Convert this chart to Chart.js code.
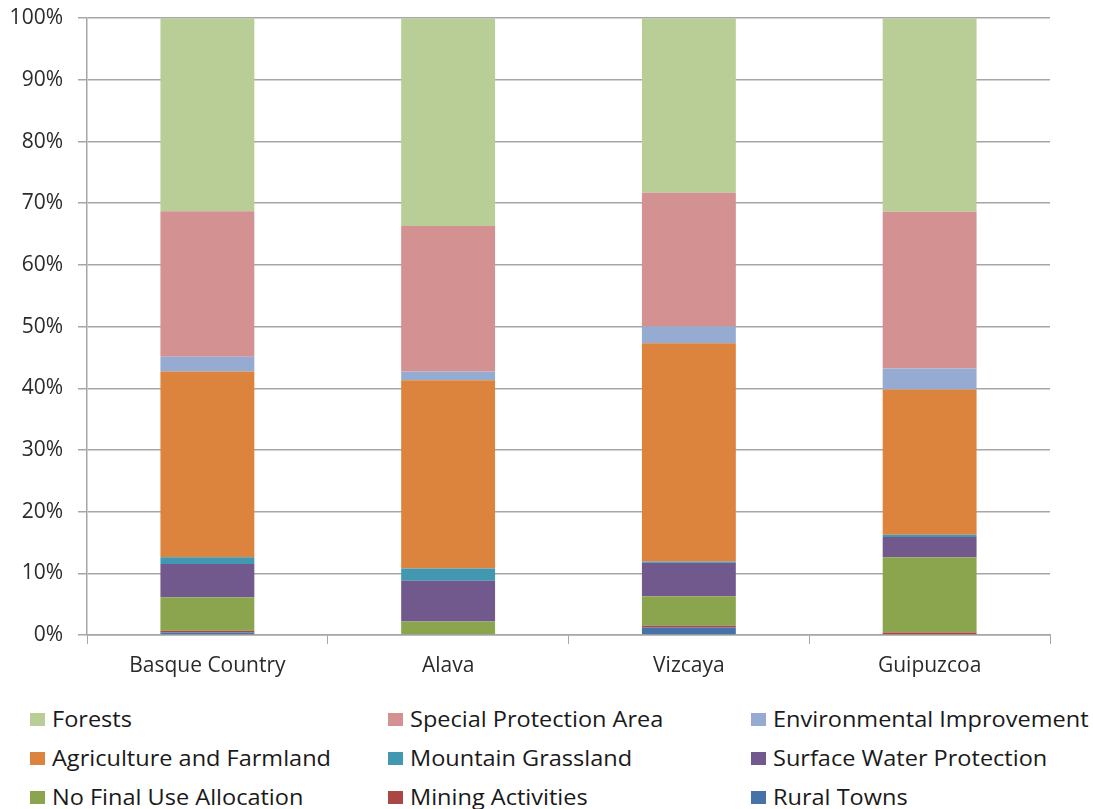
<!DOCTYPE html>
<html>
<head>
<meta charset="utf-8">
<script src="https://cdn.jsdelivr.net/npm/chart.js@4.4.1/dist/chart.umd.min.js"></script>
<style>
  html, body { margin: 0; padding: 0; background: #fff; }
  #wrap { position: relative; width: 1093px; height: 809px; }
  #chart-box { position: absolute; left: 0; top: 0; width: 1093px; height: 700px; }
  #legend { position: absolute; left: 0; top: 700px; width: 1093px; height: 109px;
    font-family: "Open Sans", Lato, sans-serif; font-size: 21px; color: #1a1a1a; }
  .item { position: absolute; display: flex; align-items: center; white-space: nowrap; line-height: 26px; }
  .sw { width: 15px; height: 13px; margin-right: 7px; }
  .txt { display: inline-block; transform: scaleX(1.12); transform-origin: left center; }
</style>
</head>
<body>
<div id="wrap">
  <div id="chart-box"><canvas id="chart"></canvas></div>
  <div id="legend"></div>
</div>
<script>
"use strict";

const CATEGORIES = ["Basque Country", "Alava", "Vizcaya", "Guipuzcoa"];

// percentages, bottom of the stack first
const RURAL_TOWNS = [0.4, 0, 1.2, 0];
const MINING = [0.3, 0, 0.3, 0.4];
const NO_FINAL_USE = [5.4, 2.2, 4.8, 12.2];
const SURFACE_WATER = [5.4, 6.6, 5.4, 3.3];
const MOUNTAIN_GRASS = [1.1, 2.0, 0.2, 0.35];
const AGRICULTURE = [30.1, 30.5, 35.4, 23.55];
const ENV_IMPROVEMENT = [2.4, 1.4, 2.7, 3.4];
const SPECIAL_PROTECTION = [23.6, 23.6, 21.7, 25.4];
const FORESTS = [31.3, 33.7, 28.3, 31.4];

const Y_TICKS = [0, 10, 20, 30, 40, 50, 60, 70, 80, 90, 100];

const SERIES = [
  { label: "Rural Towns", data: RURAL_TOWNS, color: "#4672a8" },
  { label: "Mining Activities", data: MINING, color: "#aa4644" },
  { label: "No Final Use Allocation", data: NO_FINAL_USE, color: "#8aa54e" },
  { label: "Surface Water Protection", data: SURFACE_WATER, color: "#72598d" },
  { label: "Mountain Grassland", data: MOUNTAIN_GRASS, color: "#4198b0" },
  { label: "Agriculture and Farmland", data: AGRICULTURE, color: "#dc843e" },
  { label: "Environmental Improvement", data: ENV_IMPROVEMENT, color: "#95abd1" },
  { label: "Special Protection Area", data: SPECIAL_PROTECTION, color: "#d39191" },
  { label: "Forests", data: FORESTS, color: "#b9ce97" },
];

const $ = (id) => document.getElementById(id);
const TEXT = "#2b2b2b";
const GRID = "#a6a6a6";
const FAMILY = "'Open Sans', Lato, sans-serif";

const chart = new Chart($("chart"), {
  type: "bar",
  data: {
    labels: CATEGORIES,
    datasets: SERIES.map((s) => ({
      label: s.label, data: s.data, backgroundColor: s.color, borderWidth: 0,
      barPercentage: 0.39, categoryPercentage: 1,
    })),
  },
  options: {
    responsive: true,
    maintainAspectRatio: false,
    animation: false,
    layout: { padding: { top: 18, right: 43, left: 0, bottom: 0 } },
    plugins: { legend: { display: false }, tooltip: { enabled: false } },
    scales: {
      x: {
        stacked: true,
        grid: { offset: true, drawOnChartArea: false, drawTicks: true, tickLength: 9, color: GRID },
        border: { color: GRID, width: 1.5 },
        ticks: { color: TEXT, font: { family: FAMILY, size: 21 }, padding: 9 },
        afterFit: (s) => { s.height = 65; },
      },
      y: {
        stacked: true,
        min: 0, max: 100,
        afterBuildTicks: (s) => { s.ticks = Y_TICKS.map((v) => ({ value: v })); },
        grid: { color: GRID, lineWidth: 1.5, tickLength: 9 },
        border: { color: GRID, width: 1.5 },
        // small lineHeight only keeps the top label from pushing the plot area down
        ticks: { color: TEXT, font: { family: FAMILY, size: 21, lineHeight: 0.3 }, padding: 15, callback: (v) => v + "%" },
        afterFit: (s) => { s.width = 87; },
      },
    },
  },
});

// legend in three columns, top of the stack first, like the original
const legend = $("legend");
const COL_X = [30, 388, 751];
const ROW_Y = [6, 45, 84];
SERIES.slice().reverse().forEach((s, i) => {
  const div = document.createElement("div");
  div.className = "item";
  div.style.left = COL_X[i % 3] + "px";
  div.style.top = ROW_Y[Math.floor(i / 3)] + "px";
  div.innerHTML = `<span class="sw" style="background:${s.color}"></span><span class="txt">${s.label}</span>`;
  legend.appendChild(div);
});
</script>
</body>
</html>
